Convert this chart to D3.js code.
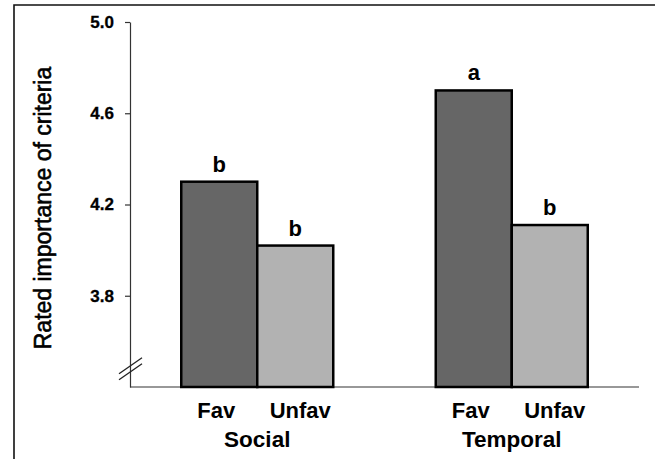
<!DOCTYPE html>
<html>
<head>
<meta charset="utf-8">
<script src="https://cdn.jsdelivr.net/npm/d3@7"></script>
<style>
  body { margin: 0; background: #fff; }
  svg { display: block; font-family: Arial, "Liberation Sans", sans-serif; }
</style>
</head>
<body>
<svg id="chart"></svg>
<script>
const groups = ["Social", "Temporal"];
const conditions = ["Fav", "Unfav"];
const socialValues = [4.30, 4.02];
const temporalValues = [4.70, 4.11];
const socialLetters = ["b", "b"];
const temporalLetters = ["a", "b"];
const yTicks = [3.8, 4.2, 4.6, 5.0];

const width = 655;
const height = 459;

const data = [];
groups.forEach((g, gi) => {
  const vals = gi === 0 ? socialValues : temporalValues;
  const lets = gi === 0 ? socialLetters : temporalLetters;
  conditions.forEach((c, ci) => {
    data.push({ group: g, cond: c, value: vals[ci], letter: lets[ci] });
  });
});

const svg = d3.select("#chart")
  .attr("width", width)
  .attr("height", height);

// frame (top and left edges only visible)
svg.append("path")
  .attr("d", `M14,${height} L14,5 L${width},5`)
  .attr("fill", "none")
  .attr("stroke", "#111")
  .attr("stroke-width", 1.6);

const y = d3.scaleLinear()
  .domain([3.4, 5.0])
  .range([387, 22]);

const x0 = d3.scaleBand()
  .domain(groups)
  .range([130, 639]);

const barW = 76;
const x1 = d3.scaleBand()
  .domain(conditions)
  .range([x0.bandwidth() / 2 - barW, x0.bandwidth() / 2 + barW]);

const fills = { Fav: "#666666", Unfav: "#b2b2b2" };

// baseline
svg.append("line")
  .attr("x1", 130)
  .attr("x2", 639)
  .attr("y1", y(3.4))
  .attr("y2", y(3.4))
  .attr("stroke", "#333")
  .attr("stroke-width", 1.2);

// y axis
const yAxis = svg.append("g")
  .attr("transform", "translate(130,0)")
  .call(d3.axisLeft(y).tickValues(yTicks).tickFormat(d3.format(".1f")).tickSize(5).tickSizeOuter(0));
yAxis.attr("font-size", 17).attr("font-family", "Arial, 'Liberation Sans', sans-serif").attr("font-weight", "bold");
yAxis.select(".domain").attr("stroke", "#333").attr("stroke-width", 1.2);
yAxis.selectAll(".tick line").attr("stroke", "#333").attr("stroke-width", 1.2);
yAxis.selectAll(".tick text")
  .attr("x", -16)
  .attr("fill", "#000")
  .attr("stroke", "#000")
  .attr("stroke-width", 0.3);

// axis break marks
const by = y(3.48);
[-3, 3].forEach(off => {
  svg.append("line")
    .attr("x1", 119)
    .attr("x2", 142)
    .attr("y1", by + off + 8)
    .attr("y2", by + off - 8)
    .attr("stroke", "#222")
    .attr("stroke-width", 1.3);
});

// bars
const bars = svg.append("g")
  .selectAll("g")
  .data(data)
  .join("g");

bars.append("rect")
  .attr("x", d => x0(d.group) + x1(d.cond))
  .attr("y", d => y(d.value))
  .attr("width", x1.bandwidth())
  .attr("height", d => y(3.4) - y(d.value))
  .attr("fill", d => fills[d.cond])
  .attr("stroke", "#000")
  .attr("stroke-width", 2.5);

bars.append("text")
  .attr("x", d => x0(d.group) + x1(d.cond) + x1.bandwidth() / 2)
  .attr("y", d => y(d.value) - 10)
  .attr("text-anchor", "middle")
  .style("font-size", "22px")
  .style("font-weight", "bold")
  .attr("fill", "#000")
  .text(d => d.letter);

// condition labels
bars.append("text")
  .attr("x", d => x0(d.group) + x1(d.cond) + x1.bandwidth() / 2 + (d.cond === "Fav" ? -3 : 5))
  .attr("y", 418)
  .attr("text-anchor", "middle")
  .style("font-size", "22px")
  .style("font-weight", "bold")
  .attr("fill", "#000")
  .text(d => d.cond);

// group labels
svg.append("g")
  .selectAll("text")
  .data(groups)
  .join("text")
  .attr("x", d => x0(d) + x0.bandwidth() / 2)
  .attr("y", 447)
  .attr("text-anchor", "middle")
  .style("font-size", "22.5px")
  .style("font-weight", "bold")
  .attr("fill", "#000")
  .text(d => d);

// y title
svg.append("text")
  .attr("transform", `translate(51,${(53 + 363) / 2}) rotate(-90)`)
  .attr("text-anchor", "middle")
  .style("font-size", "23px")
  .attr("fill", "#000")
  .attr("stroke", "#000")
  .attr("stroke-width", 0.6)
  .text("Rated importance of criteria");
</script>
</body>
</html>
